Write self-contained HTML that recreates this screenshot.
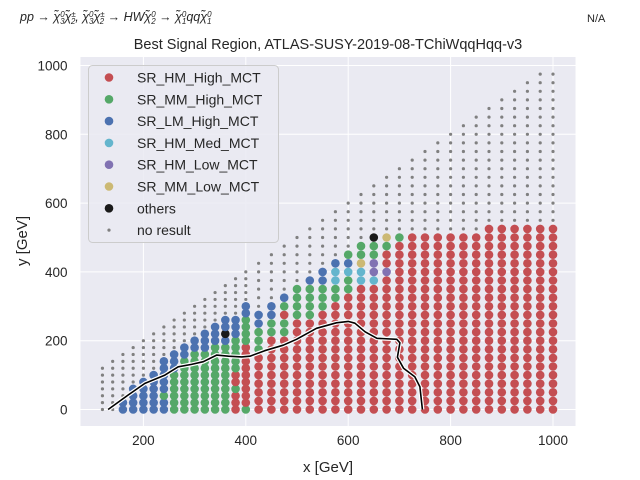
<!DOCTYPE html>
<html><head><meta charset="utf-8"><style>
html,body{margin:0;padding:0;background:#fff;}
svg{display:block;font-family:"Liberation Sans","DejaVu Sans",sans-serif;}
</style></head><body>
<svg id="chart" width="640" height="480" viewBox="0 0 640 480">
  <rect x="80.5" y="57" width="495" height="369" fill="#eaeaf2"/>
  <g id="grid"></g>
  <g id="ticks"></g>
  <g id="points"></g>
  <g id="contour"></g>
  <g font-size="12.5" fill="#262626" font-style="italic">
    <text x="20" y="21">pp → χ̃<tspan font-size="8" dy="-4">0</tspan><tspan font-size="8" dx="-4.5" dy="7">3</tspan><tspan dy="-3">χ̃</tspan><tspan font-size="8" dy="-4">±</tspan><tspan font-size="8" dx="-5" dy="7">2</tspan><tspan dy="-3">, χ̃</tspan><tspan font-size="8" dy="-4">0</tspan><tspan font-size="8" dx="-4.5" dy="7">3</tspan><tspan dy="-3">χ̃</tspan><tspan font-size="8" dy="-4">±</tspan><tspan font-size="8" dx="-5" dy="7">2</tspan><tspan dy="-3"> → HWχ̃</tspan><tspan font-size="8" dy="-4">0</tspan><tspan font-size="8" dx="-4.5" dy="7">2</tspan><tspan dy="-3"> → χ̃</tspan><tspan font-size="8" dy="-4">0</tspan><tspan font-size="8" dx="-4.5" dy="7">1</tspan><tspan dy="-3">qqχ̃</tspan><tspan font-size="8" dy="-4">0</tspan><tspan font-size="8" dx="-4.5" dy="7">1</tspan></text>
  </g>
  <text x="587" y="22" font-size="11" fill="#262626">N/A</text>
  <text x="328" y="49" font-size="14.5" fill="#262626" text-anchor="middle">Best Signal Region, ATLAS-SUSY-2019-08-TChiWqqHqq-v3</text>
  <text x="328" y="472" font-size="15" fill="#262626" text-anchor="middle">x [GeV]</text>
  <text x="0" y="0" font-size="15" fill="#262626" text-anchor="middle" transform="translate(27,241) rotate(-90)">y [GeV]</text>
  <g id="legend">
    <rect x="88.5" y="65.5" width="190" height="177" rx="4" fill="#eaeaf2" fill-opacity="0.85" stroke="#cccccc"/>
  </g>
</svg>
<script>
const NS='http://www.w3.org/2000/svg';
// ---- data ----
const colsA=[120,140,160,180,200,220,240,260,280,300,320,340,360,380,400];
const classesA=["","","BB","BBBB","BBBBB","BBBBBB","BBGBBBBB","GGGGGGBBB","GGGGGGGGBB","GGGGGGGGGBB","GGGGGGGGGBBB","GGGGGGGGGGBBB","GGGGGGGGGGBKBB","RRRGRRGGGGGBBB","GRRRRRRRRRGGGGBB"];
const colsB=[425,450,475,500,525,550,575,600,625,650,675,700,725,750,775,800,825,850,875,900,925,950,975,1000];
const classesB=["RRRRRRRGGGBB","RRRRRRRRRGGBB","RRRRRRRRRGGRGB","RRRRRRRRRRRGGGG","RRRRRRRRRRRGGGGB","RRRRRRRRRRRRGGGBB","RRRRRRRRRRRRRGGCCB","RRRRRRRRRRRRRRGGCBG","RRRRRRRRRRRRRRRCCYGG","RRRRRRRRRRRRRRRCPPGGK","RRRRRRRRRRRRRRRRPRRGY","RRRRRRRRRRRRRRRRRRRRG","RRRRRRRRRRRRRRRRRRRRR","RRRRRRRRRRRRRRRRRRRRR","RRRRRRRRRRRRRRRRRRRRR","RRRRRRRRRRRRRRRRRRRRR","RRRRRRRRRRRRRRRRRRRRR","RRRRRRRRRRRRRRRRRRRRR","RRRRRRRRRRRRRRRRRRRRRR","RRRRRRRRRRRRRRRRRRRRRR","RRRRRRRRRRRRRRRRRRRRRR","RRRRRRRRRRRRRRRRRRRRRR","RRRRRRRRRRRRRRRRRRRRRR","RRRRRRRRRRRRRRRRRRRRRR"];
const yMaxGrid=975;
const contourX=[131,170,203,242,268,294,317,343,366,392,408,437,473,499,538,577,600,613,633,656,695,701,696,708,730,740,745];
const contourY=[0,42,76,100,124,131,139,158,155,153,155,171,187,204,236,252,256,251,226,207,204,194,152,120,95,66,0];
const xTicks=[200,400,600,800,1000];
const yTicks=[0,200,400,600,800,1000];
const legendLabels=["SR_HM_High_MCT","SR_MM_High_MCT","SR_LM_High_MCT","SR_HM_Med_MCT","SR_HM_Low_MCT","SR_MM_Low_MCT","others","no result"];
const legendCodes=["R","G","B","C","P","Y","K","N"];
// ---- styles ----
const colors={R:"#c44e52",G:"#55a868",B:"#4c72b0",C:"#64b5cd",P:"#8172b2",Y:"#ccb974",K:"#1a1a1a",N:"#808080"};
function sx(v){return 41+0.512*v;}
function sy(v){return 409.5-0.344*v;}
const L=80.5,R=575.5,T=57,Bt=426;
const grid=document.getElementById('grid'),ticks=document.getElementById('ticks');
function mk(tag,attrs,parent){const e=document.createElementNS(NS,tag);for(const k in attrs)e.setAttribute(k,attrs[k]);parent.appendChild(e);return e;}
xTicks.forEach(v=>{
  const l=mk('line',{x1:sx(v),x2:sx(v),y1:T,y2:Bt,stroke:'#fff','stroke-width':1},grid);
  
  
  const t=mk('text',{x:sx(v),y:Bt+19,'font-size':13.5,fill:'#262626','text-anchor':'middle'},ticks);
  t.textContent=v;
  
  
});
yTicks.forEach(v=>{
  const l=mk('line',{x1:L,x2:R,y1:sy(v),y2:sy(v),stroke:'#fff','stroke-width':1},grid);
  
  
  const t=mk('text',{x:L-13,y:sy(v)+5,'font-size':13.5,fill:'#262626','text-anchor':'end'},ticks);
  t.textContent=v;
  
  
});
const pts=document.getElementById('points');
function drawCol(x,cls,step){
  let i;
  for(i=0;i<cls.length;i++){
    const c=mk('circle',{cx:sx(x),cy:sy(i*step),r:4.3,fill:colors[cls[i]]},pts);
    
    
  }
  const top=Math.min(x,yMaxGrid);
  for(let y=i*step;y<=top+0.01;y+=step){
    const c=mk('circle',{cx:sx(x),cy:sy(y),r:1.6,fill:colors.N},pts);
    
    
  }
}
colsA.forEach((x,k)=>drawCol(x,classesA[k],20));
colsB.forEach((x,k)=>drawCol(x,classesB[k],25));
const cg=document.getElementById('contour');
const d=contourX.map((x,i)=>(i?'L':'M')+sx(x).toFixed(1)+','+sy(contourY[i]).toFixed(1)).join(' ');
const halo=mk('path',{d:d,fill:'none',stroke:'#fff','stroke-width':4,'stroke-linejoin':'round'},cg);


const line=mk('path',{d:d,fill:'none',stroke:'#000','stroke-width':1.6,'stroke-linejoin':'round'},cg);


const lg=document.getElementById('legend');
legendLabels.forEach((lab,i)=>{
  const y=77.5+i*21.8;
  const code=legendCodes[i];
  const m=mk('circle',{cx:109,cy:y,r:code==='N'?1.6:4.3,fill:colors[code]},lg);
  
  
  const t=mk('text',{x:137,y:y+5,'font-size':14,fill:'#262626'},lg);
  t.textContent=lab;
  
  
});
</script>
</body></html>
